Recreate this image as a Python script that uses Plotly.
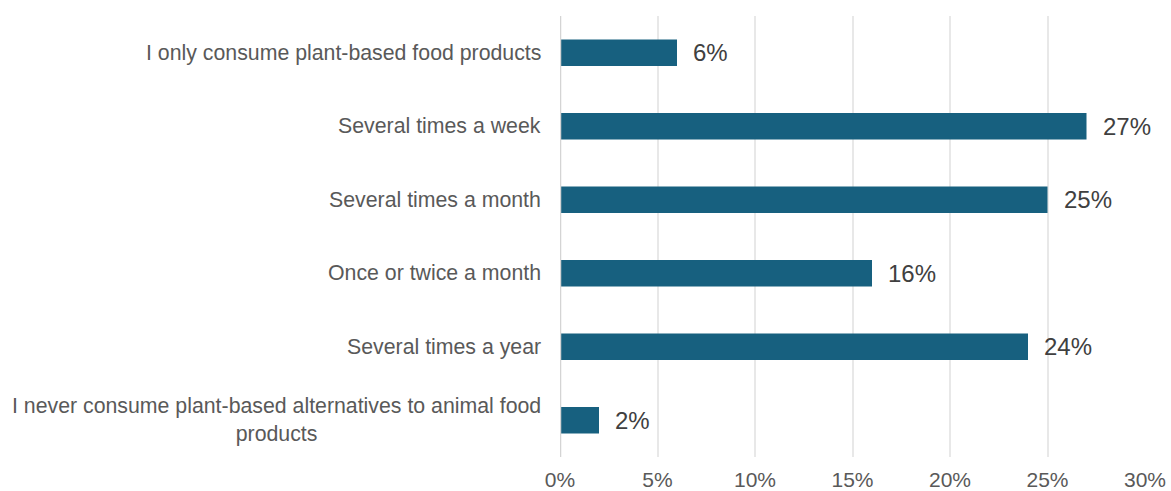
import plotly.graph_objects as go

categories = [
    "I only consume plant-based food products",
    "Several times a week",
    "Several times a month",
    "Once or twice a month",
    "Several times a year",
    "I never consume plant-based alternatives to animal food<br>products",
]
values = [6, 27, 25, 16, 24, 2]
tick_vals = [0, 5, 10, 15, 20, 25, 30]
tick_text = ["0%", "5%", "10%", "15%", "20%", "25%", "30%"]

FONT = "Liberation Sans, Arial, sans-serif"

fig = go.Figure()
fig.add_trace(go.Bar(
    x=values, y=categories, orientation="h",
    marker=dict(color="#17607f", line=dict(width=0)),
    hoverinfo="skip",
))

annotations = []
for c, v in zip(categories, values):
    annotations.append(dict(
        x=v, y=c, xref="x", yref="y", text=f"{v}%", showarrow=False,
        xanchor="left", xshift=14, font=dict(family=FONT, size=24, color="#404040"),
    ))
    annotations.append(dict(
        x=0, y=c, xref="paper", yref="y", text=c, showarrow=False,
        xanchor="right", xshift=-17, align="center",
        font=dict(family=FONT, size=21.3, color="#595959"),
    ))

fig.update_layout(
    width=1171, height=491,
    margin=dict(l=560, r=26, t=16, b=34, autoexpand=False),
    paper_bgcolor="white", plot_bgcolor="white",
    bargap=0.64,
    showlegend=False,
    annotations=annotations,
    xaxis=dict(
        range=[0, 30], tickvals=tick_vals, ticktext=tick_text,
        showgrid=True, gridcolor="#e8e8e8", gridwidth=1.5,
        zeroline=False, showline=False, automargin=False,
        tickfont=dict(family=FONT, size=21, color="#595959"),
        ticklabelstandoff=8, fixedrange=True,
    ),
    yaxis=dict(
        autorange="reversed", showticklabels=False, showgrid=False,
        zeroline=False, showline=False, fixedrange=True, automargin=False,
    ),
    shapes=[dict(type="line", xref="x", yref="paper", x0=0, x1=0, y0=0, y1=1,
                 line=dict(color="#d4d4d4", width=2.5))],
)

fig.write_html("out.html")
